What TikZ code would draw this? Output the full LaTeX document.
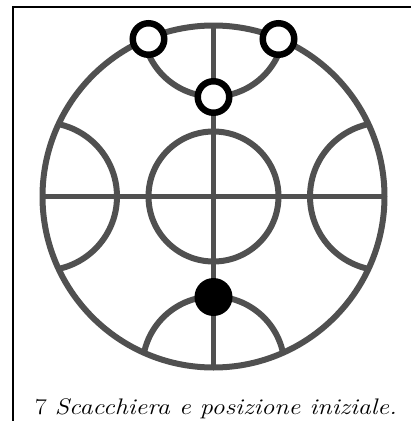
\documentclass[tikz,border=0pt]{standalone}
\usepackage{graphicx}
\definecolor{boardgray}{RGB}{80,80,80}
\begin{document}
\begin{tikzpicture}[x=1pt,y=-1pt,
  boardline/.style={draw=boardgray, line width=6pt},
  gridline/.style={draw=boardgray, line width=5.5pt},
  whitepiece/.style={circle, draw=black, fill=white, line width=6.5pt, minimum size=31.5pt, inner sep=0pt},
  blackpiece/.style={circle, fill=black, minimum size=38pt, inner sep=0pt},
  frameline/.style={draw=black, line width=2pt},
  caption/.style={font=\fontsize{22.5}{26}\selectfont, anchor=base}]
\useasboundingbox (0,0) rectangle (411,421);
\draw[frameline] (13,421) -- (13,7) -- (411,7);
\coordinate (C) at (213.5,196.5);
\coordinate (T) at (213.5,25.5);
\coordinate (B) at (213.5,367.5);
\coordinate (L) at (43,196.5);
\coordinate (R) at (384,196.5);
\begin{scope}
  \clip (C) circle (171pt);
  \draw[boardline] (T) circle (71pt);
  \draw[boardline] (B) circle (71pt);
  \draw[boardline] (L) circle (74pt);
  \draw[boardline] (R) circle (74pt);
\end{scope}
\draw[gridline] (T) -- (B);
\draw[gridline] (L) -- (R);
\draw[boardline] (C) circle (65pt);
\draw[boardline] (C) circle (171pt);
\node[whitepiece] (w1) at (148.5,39) {};
\node[whitepiece] (w2) at (278.5,39) {};
\node[whitepiece] (w3) at (213.5,97) {};
\node[blackpiece] (b1) at (213.5,297) {};
\node[caption] (cap) at (216,414) {\scalebox{1.16}[1]{7 \textit{Scacchiera e posizione iniziale.}}};
\end{tikzpicture}
\end{document}
